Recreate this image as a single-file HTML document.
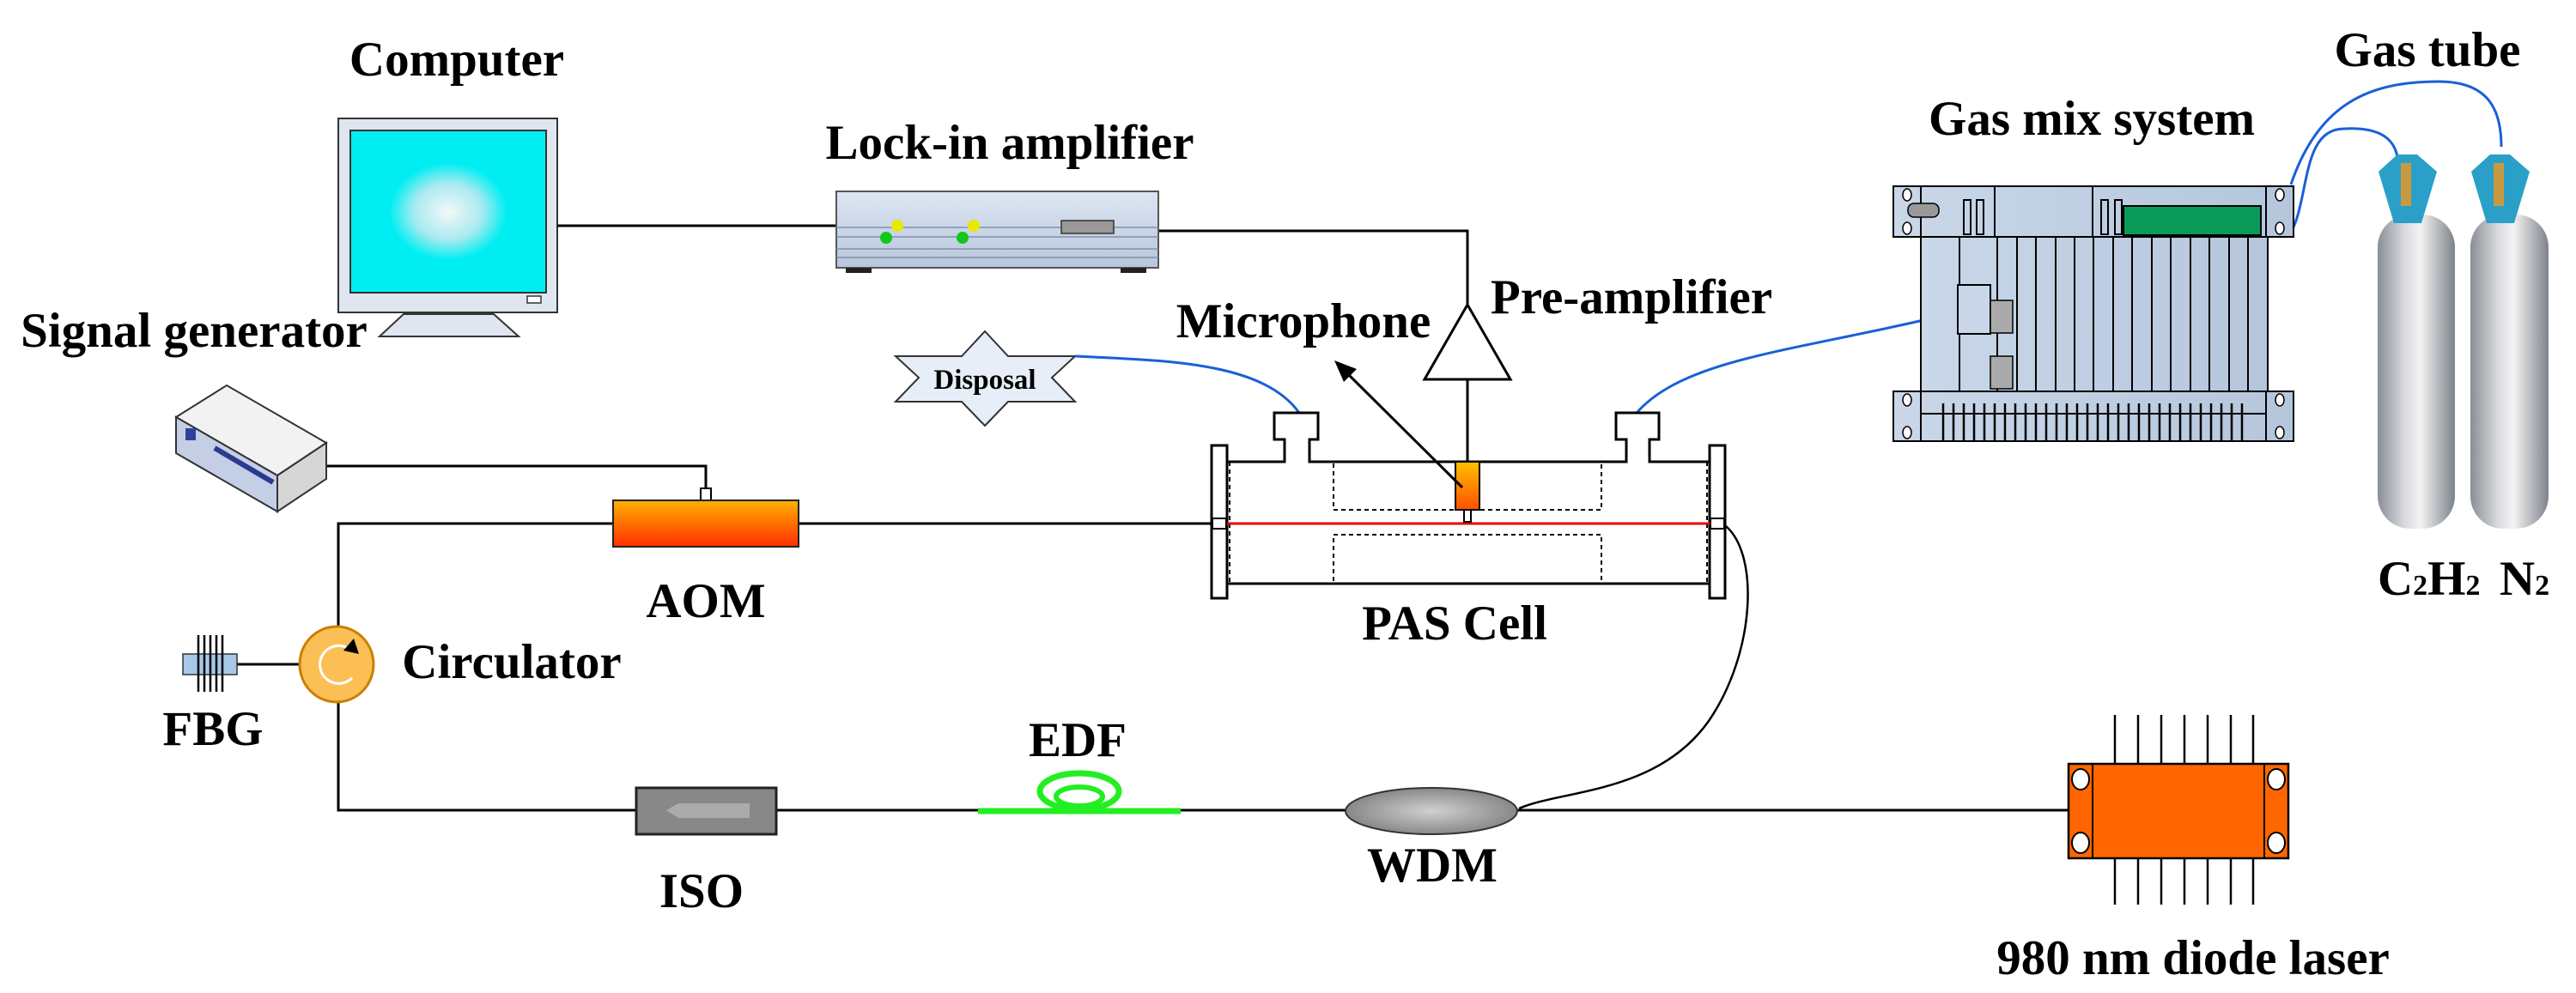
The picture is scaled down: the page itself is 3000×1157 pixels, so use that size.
<!DOCTYPE html>
<html><head><meta charset="utf-8"><style>
html,body{margin:0;padding:0;background:#fff;}
svg{display:block;}
text{font-family:"Liberation Serif",serif;font-weight:bold;fill:#000;}
</style></head><body>
<svg width="3000" height="1157" viewBox="0 0 3000 1157" xmlns="http://www.w3.org/2000/svg">
<defs>
<radialGradient id="scr" cx="0.5" cy="0.5" r="0.5"><stop offset="0" stop-color="#f4f8f8"/><stop offset="0.35" stop-color="#a8eaf0"/><stop offset="0.6" stop-color="#00eef2"/><stop offset="1" stop-color="#00eef2"/></radialGradient>
<linearGradient id="aom" x1="0" y1="0" x2="0" y2="1"><stop offset="0" stop-color="#ffb000"/><stop offset="1" stop-color="#ff3000"/></linearGradient>
<linearGradient id="mic" x1="0" y1="0" x2="0" y2="1"><stop offset="0" stop-color="#ffc000"/><stop offset="1" stop-color="#ff5000"/></linearGradient>
<linearGradient id="box" x1="0" y1="0" x2="0" y2="1"><stop offset="0" stop-color="#dde6f2"/><stop offset="1" stop-color="#b8c6dc"/></linearGradient>
<linearGradient id="cyl" x1="0" y1="0" x2="1" y2="0"><stop offset="0" stop-color="#8a8e95"/><stop offset="0.35" stop-color="#d8dadd"/><stop offset="0.55" stop-color="#f4f4f4"/><stop offset="1" stop-color="#7d828a"/></linearGradient>
<radialGradient id="wdm" cx="0.5" cy="0.5" r="0.5"><stop offset="0" stop-color="#d0d0d0"/><stop offset="1" stop-color="#888"/></radialGradient>
<linearGradient id="rack" x1="0" y1="0" x2="1" y2="0"><stop offset="0" stop-color="#c9d7e8"/><stop offset="1" stop-color="#b5c6dc"/></linearGradient>
</defs>

<!-- Labels -->
<g font-size="57">
<text x="532" y="88" text-anchor="middle">Computer</text>
<text x="1176" y="185" text-anchor="middle">Lock-in amplifier</text>
<text x="226" y="404" text-anchor="middle">Signal generator</text>
<text x="1518" y="393" text-anchor="middle">Microphone</text>
<text x="1900" y="365" text-anchor="middle">Pre-amplifier</text>
<text x="2436" y="157" text-anchor="middle">Gas mix system</text>
<text x="2827" y="77" text-anchor="middle">Gas tube</text>
<text x="822" y="719" text-anchor="middle">AOM</text>
<text x="596" y="790" text-anchor="middle">Circulator</text>
<text x="248" y="868" text-anchor="middle">FBG</text>
<text x="1694" y="745" text-anchor="middle">PAS Cell</text>
<text x="1255" y="881" text-anchor="middle">EDF</text>
<text x="817" y="1057" text-anchor="middle">ISO</text>
<text x="1668" y="1027" text-anchor="middle">WDM</text>
<text x="2554" y="1135" text-anchor="middle">980 nm diode laser</text>
<text x="2769" y="693">C<tspan font-size="34">2</tspan>H<tspan font-size="34">2</tspan></text>
<text x="2911" y="693">N<tspan font-size="34">2</tspan></text>
</g>

<!-- Computer -->
<rect x="394" y="138" width="255" height="226" fill="#dfe6ef" stroke="#333" stroke-width="2"/>
<rect x="408" y="152" width="228" height="189" fill="url(#scr)" stroke="#333" stroke-width="2"/>
<rect x="614" y="345" width="16" height="8" fill="#fff" stroke="#333" stroke-width="1.5"/>
<path d="M470 366 L575 366 L604 392 L442 392 Z" fill="#dfe6ef" stroke="#333" stroke-width="2"/>

<!-- wires black -->
<g fill="none" stroke="#000" stroke-width="3">
<line x1="649" y1="263" x2="974" y2="263"/>
<polyline points="1349,269 1709,269 1709,355"/>
<line x1="1709" y1="442" x2="1709" y2="538"/>
<polyline points="380,543 822,543 822,572"/>
<polyline points="714,610 394,610 394,730"/>
<line x1="930" y1="610" x2="1418" y2="610"/>
<polyline points="394,818 394,944 741,944"/>
<line x1="904" y1="944" x2="1567" y2="944"/>
<line x1="276" y1="774" x2="349" y2="774"/>
<line x1="1767" y1="944" x2="2409" y2="944"/>
<path d="M2006 610 C2050 640 2045 760 1990 840 C1930 925 1820 920 1769 942" stroke-width="2.5"/>
</g>

<!-- Lock-in -->
<rect x="974" y="223" width="375" height="89" fill="url(#box)" stroke="#555" stroke-width="2"/>
<g stroke="#8090a8" stroke-width="1.5"><line x1="974" y1="265" x2="1349" y2="265"/><line x1="974" y1="276" x2="1349" y2="276"/><line x1="974" y1="290" x2="1349" y2="290"/><line x1="974" y1="300" x2="1349" y2="300"/></g>
<rect x="1236" y="257" width="61" height="15" fill="#999" stroke="#333" stroke-width="1.5"/>
<circle cx="1045" cy="263" r="7" fill="#e8e800"/><circle cx="1134" cy="263" r="7" fill="#e8e800"/>
<circle cx="1032" cy="277" r="7" fill="#11c81a"/><circle cx="1121" cy="277" r="7" fill="#11c81a"/>
<rect x="985" y="312" width="30" height="6" fill="#222"/><rect x="1305" y="312" width="30" height="6" fill="#222"/>

<!-- Signal generator -->
<path d="M205 486 L264 449 L380 516 L323 554 Z" fill="#f2f2f2" stroke="#333" stroke-width="2"/>
<path d="M205 486 L323 554 L323 596 L205 528 Z" fill="#c4cfe6" stroke="#333" stroke-width="2"/>
<path d="M323 554 L380 516 L380 558 L323 596 Z" fill="#d6d6d6" stroke="#333" stroke-width="2"/>
<rect x="216" y="499" width="12" height="14" fill="#3040a0"/>
<path d="M250 522 L318 562" stroke="#2a3a90" stroke-width="6"/>

<!-- AOM -->
<rect x="816" y="569" width="12" height="14" fill="#fff" stroke="#000" stroke-width="2"/>
<rect x="714" y="583" width="216" height="54" fill="url(#aom)" stroke="#222" stroke-width="2"/>

<!-- Circulator -->
<ellipse cx="392" cy="774" rx="43" ry="44" fill="#fbbf55" stroke="#c88000" stroke-width="3"/>
<path d="M405 755 A22 22 0 1 0 410 790" fill="none" stroke="#fff" stroke-width="3"/>
<path d="M400 758 L412 744 L418 762 Z" fill="#000"/>

<!-- FBG -->
<rect x="213" y="762" width="63" height="24" fill="#a8c8e8" stroke="#333" stroke-width="1.5"/>
<g stroke="#000" stroke-width="2.5"><line x1="231" y1="740" x2="231" y2="806"/><line x1="238" y1="740" x2="238" y2="806"/><line x1="245" y1="740" x2="245" y2="806"/><line x1="252" y1="740" x2="252" y2="806"/><line x1="259" y1="740" x2="259" y2="806"/></g>

<!-- ISO -->
<rect x="741" y="918" width="163" height="54" fill="#888" stroke="#222" stroke-width="3"/>
<path d="M790 936 L790 953 L873 953 L873 936 Z" fill="#ababab"/>
<path d="M790 936 L776 944 L790 953 Z" fill="#ababab"/>

<!-- EDF -->
<line x1="1139" y1="945" x2="1375" y2="945" stroke="#22ee22" stroke-width="7"/>
<ellipse cx="1257" cy="922" rx="46" ry="21" fill="none" stroke="#22ee22" stroke-width="7"/>
<ellipse cx="1257" cy="928" rx="27" ry="11" fill="none" stroke="#22ee22" stroke-width="6"/>

<!-- WDM -->
<ellipse cx="1667" cy="945" rx="100" ry="27" fill="url(#wdm)" stroke="#333" stroke-width="2"/>

<!-- Disposal star -->
<path d="M1147 386 L1174 415 L1252 415 L1225 440 L1252 468 L1174 468 L1147 496 L1120 468 L1043 468 L1070 440 L1043 415 L1120 415 Z" fill="#e8eef8" stroke="#333" stroke-width="2"/>
<text x="1147" y="453" text-anchor="middle" font-size="33" font-weight="normal">Disposal</text>

<!-- blue tubes -->
<g fill="none" stroke="#1a5fd6" stroke-width="3">
<path d="M1252 415 C1350 420 1470 420 1513 481"/>
<path d="M1906 481 C1960 420 2080 410 2240 373"/>
<path d="M2668 215 C2700 120 2760 95 2840 95 C2900 95 2913 130 2913 171"/>
<path d="M2668 271 C2690 230 2680 150 2730 150 C2770 148 2793 160 2793 194"/>
</g>

<!-- PAS cell -->
<g fill="#fff" stroke="#000" stroke-width="3">
<path d="M1429 538 L1496 538 L1496 512 L1484 512 L1484 481 L1535 481 L1535 512 L1525 512 L1525 538 L1894 538 L1894 512 L1882 512 L1882 481 L1932 481 L1932 512 L1921 512 L1921 538 L1991 538"/>
<line x1="1429" y1="680" x2="1991" y2="680"/>
<rect x="1411" y="519" width="18" height="178"/>
<rect x="1991" y="519" width="18" height="178"/>
</g>
<g fill="none" stroke="#000" stroke-width="2" stroke-dasharray="5,4">
<rect x="1553" y="538" width="312" height="56"/>
<rect x="1553" y="623" width="312" height="57"/>
<line x1="1432" y1="538" x2="1432" y2="680"/>
<line x1="1988" y1="538" x2="1988" y2="680"/>
</g>
<line x1="1429" y1="610" x2="1991" y2="610" stroke="#e00" stroke-width="3"/>
<rect x="1412" y="604" width="16" height="12" fill="#fff" stroke="#000" stroke-width="2"/>
<rect x="1992" y="604" width="16" height="12" fill="#fff" stroke="#000" stroke-width="2"/>

<!-- Microphone & preamp -->
<rect x="1695" y="538" width="28" height="56" fill="url(#mic)" stroke="#000" stroke-width="2"/>
<rect x="1705" y="594" width="8" height="14" fill="#fff" stroke="#000" stroke-width="2"/>
<line x1="1703" y1="568" x2="1568" y2="434" stroke="#000" stroke-width="3"/>
<path d="M1554 420 L1580 430 L1565 445 Z" fill="#000"/>
<path d="M1709 355 L1759 442 L1659 442 Z" fill="#fff" stroke="#000" stroke-width="3"/>

<!-- Laser -->
<g stroke="#000" stroke-width="2.5">
<line x1="2463" y1="833" x2="2463" y2="1054"/><line x1="2490" y1="833" x2="2490" y2="1054"/><line x1="2517" y1="833" x2="2517" y2="1054"/><line x1="2544" y1="833" x2="2544" y2="1054"/><line x1="2571" y1="833" x2="2571" y2="1054"/><line x1="2598" y1="833" x2="2598" y2="1054"/><line x1="2624" y1="833" x2="2624" y2="1054"/>
</g>
<rect x="2409" y="890" width="256" height="110" fill="#ff6600" stroke="#000" stroke-width="2.5"/>
<line x1="2437" y1="890" x2="2437" y2="1000" stroke="#000" stroke-width="2"/>
<line x1="2637" y1="890" x2="2637" y2="1000" stroke="#000" stroke-width="2"/>
<g fill="#fff" stroke="#000" stroke-width="2"><ellipse cx="2423" cy="908" rx="10" ry="12"/><ellipse cx="2423" cy="982" rx="10" ry="12"/><ellipse cx="2651" cy="908" rx="10" ry="12"/><ellipse cx="2651" cy="982" rx="10" ry="12"/></g>

<!-- Gas mix system -->
<rect x="2237" y="276" width="404" height="180" fill="url(#rack)" stroke="#000" stroke-width="2"/>
<g stroke="#000" stroke-width="2">
<line x1="2282" y1="276" x2="2282" y2="456"/><line x1="2326" y1="276" x2="2326" y2="456"/><line x1="2349" y1="276" x2="2349" y2="456"/><line x1="2371" y1="276" x2="2371" y2="456"/><line x1="2394" y1="276" x2="2394" y2="456"/><line x1="2416" y1="276" x2="2416" y2="456"/><line x1="2438" y1="276" x2="2438" y2="456"/><line x1="2461" y1="276" x2="2461" y2="456"/><line x1="2483" y1="276" x2="2483" y2="456"/><line x1="2506" y1="276" x2="2506" y2="456"/><line x1="2528" y1="276" x2="2528" y2="456"/><line x1="2551" y1="276" x2="2551" y2="456"/><line x1="2573" y1="276" x2="2573" y2="456"/><line x1="2596" y1="276" x2="2596" y2="456"/><line x1="2618" y1="276" x2="2618" y2="456"/>
</g>
<rect x="2280" y="332" width="38" height="57" fill="#c9d7e8" stroke="#000" stroke-width="2"/>
<rect x="2318" y="350" width="26" height="38" fill="#aaa" stroke="#000" stroke-width="1.5"/>
<rect x="2318" y="415" width="26" height="38" fill="#aaa" stroke="#000" stroke-width="1.5"/>
<rect x="2205" y="217" width="466" height="59" fill="url(#rack)" stroke="#000" stroke-width="2"/>
<g stroke="#000" stroke-width="2" fill="none"><line x1="2237" y1="217" x2="2237" y2="276"/><line x1="2323" y1="217" x2="2323" y2="276"/><line x1="2437" y1="217" x2="2437" y2="276"/><line x1="2639" y1="217" x2="2639" y2="276"/><rect x="2287" y="233" width="8" height="40"/><rect x="2302" y="233" width="8" height="40"/><rect x="2447" y="233" width="8" height="40"/><rect x="2463" y="233" width="8" height="40"/></g>
<rect x="2473" y="240" width="160" height="34" fill="#0a9a5a" stroke="#000" stroke-width="2"/>
<rect x="2222" y="237" width="36" height="16" rx="7" fill="#999" stroke="#000" stroke-width="1.5"/>
<rect x="2205" y="456" width="466" height="58" fill="url(#rack)" stroke="#000" stroke-width="2"/>
<g stroke="#000" stroke-width="2"><line x1="2237" y1="456" x2="2237" y2="514"/><line x1="2639" y1="456" x2="2639" y2="514"/><line x1="2237" y1="482" x2="2639" y2="482"/></g>
<g stroke="#000" stroke-width="2.5">
<line x1="2263" y1="470" x2="2263" y2="514"/><line x1="2275" y1="470" x2="2275" y2="514"/><line x1="2287" y1="470" x2="2287" y2="514"/><line x1="2299" y1="470" x2="2299" y2="514"/><line x1="2311" y1="470" x2="2311" y2="514"/><line x1="2323" y1="470" x2="2323" y2="514"/><line x1="2335" y1="470" x2="2335" y2="514"/><line x1="2347" y1="470" x2="2347" y2="514"/><line x1="2359" y1="470" x2="2359" y2="514"/><line x1="2371" y1="470" x2="2371" y2="514"/><line x1="2383" y1="470" x2="2383" y2="514"/><line x1="2395" y1="470" x2="2395" y2="514"/><line x1="2407" y1="470" x2="2407" y2="514"/><line x1="2419" y1="470" x2="2419" y2="514"/><line x1="2431" y1="470" x2="2431" y2="514"/><line x1="2443" y1="470" x2="2443" y2="514"/><line x1="2455" y1="470" x2="2455" y2="514"/><line x1="2467" y1="470" x2="2467" y2="514"/><line x1="2479" y1="470" x2="2479" y2="514"/><line x1="2491" y1="470" x2="2491" y2="514"/><line x1="2503" y1="470" x2="2503" y2="514"/><line x1="2515" y1="470" x2="2515" y2="514"/><line x1="2527" y1="470" x2="2527" y2="514"/><line x1="2539" y1="470" x2="2539" y2="514"/><line x1="2551" y1="470" x2="2551" y2="514"/><line x1="2563" y1="470" x2="2563" y2="514"/><line x1="2575" y1="470" x2="2575" y2="514"/><line x1="2587" y1="470" x2="2587" y2="514"/><line x1="2599" y1="470" x2="2599" y2="514"/><line x1="2611" y1="470" x2="2611" y2="514"/>
</g>
<g fill="#fff" stroke="#000" stroke-width="1.5">
<ellipse cx="2221" cy="227" rx="5" ry="7"/><ellipse cx="2221" cy="266" rx="5" ry="7"/><ellipse cx="2655" cy="227" rx="5" ry="7"/><ellipse cx="2655" cy="266" rx="5" ry="7"/>
<ellipse cx="2221" cy="466" rx="5" ry="7"/><ellipse cx="2221" cy="504" rx="5" ry="7"/><ellipse cx="2655" cy="466" rx="5" ry="7"/><ellipse cx="2655" cy="504" rx="5" ry="7"/>
</g>

<!-- Cylinders -->
<rect x="2769" y="250" width="90" height="366" rx="38" fill="url(#cyl)"/>
<rect x="2877" y="250" width="91" height="366" rx="38" fill="url(#cyl)"/>
<path d="M2770 200 L2792 180 L2815 180 L2838 200 L2820 260 L2788 260 Z" fill="#2aa0c8"/>
<path d="M2878 200 L2900 180 L2923 180 L2946 200 L2928 260 L2896 260 Z" fill="#2aa0c8"/>
<rect x="2796" y="190" width="12" height="50" fill="#c89a40"/>
<rect x="2904" y="190" width="12" height="50" fill="#c89a40"/>
</svg>
</body></html>
